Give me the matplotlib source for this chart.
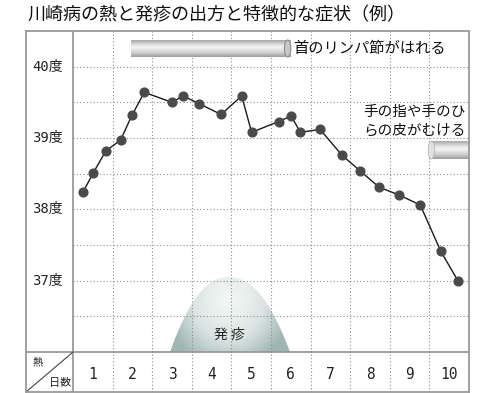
import numpy as np
import matplotlib
matplotlib.use("Agg")
import matplotlib.pyplot as plt
from matplotlib.patches import Polygon, Ellipse
from matplotlib.colors import LinearSegmentedColormap

plt.rcParams['font.family'] = ['Noto Sans CJK JP', 'DejaVu Sans']

# ----------------------------
# data
# ----------------------------
title = "川崎病の熱と発疹の出方と特徴的な症状（例）"
days = [1, 2, 3, 4, 5, 6, 7, 8, 9, 10]
temp_ticks = [37, 38, 39, 40]
temp_labels = ["37度", "38度", "39度", "40度"]

# position in days (day n spans n-1..n) and body temperature
fever_x = [0.26, 0.51, 0.83, 1.20, 1.49, 1.80, 2.50, 2.78, 3.19, 3.74, 4.26, 4.51,
           5.19, 5.51, 5.74, 6.24, 6.79, 7.25, 7.73, 8.24, 8.77, 9.29, 9.73]
fever_t = [38.25, 38.51, 38.82, 38.97, 39.32, 39.64, 39.50, 39.59, 39.48, 39.33, 39.59, 39.08,
           39.23, 39.31, 39.08, 39.12, 38.76, 38.54, 38.31, 38.20, 38.06, 37.41, 36.99]

# symptom periods (in days)
lymph_label = "首のリンパ節がはれる"
lymph_span = (1.47, 5.50)
peel_label = ["手の指や手のひ", "らの皮がむける"]
peel_span = (8.99, 10.0)
rash_label = "発 疹"
rash_span = (2.45, 5.48)
rash_peak = 3.93

# ----------------------------
# layout
# ----------------------------
W, H = 480, 393
fig = plt.figure(figsize=(W / 100, H / 100), dpi=100)
left_px, right_px, top_px, bot_px = 26, 469, 31, 392
ax = fig.add_axes([left_px / W, 1 - bot_px / H, (right_px - left_px) / W, (bot_px - top_px) / H])
xmin, xmax = -1.187, 10.0
ymin, ymax = 35.44, 40.5

frame = "#9a9a9a"
grid = "#8c8c8c"

for s in ax.spines.values():
    s.set_color(frame)
    s.set_linewidth(1.3)
ax.set_xticks([])
ax.set_yticks([])

# dividers of label column / bottom row
ax.plot([0, 0], [ymin, ymax], color=frame, lw=1.3)
ax.plot([xmin, xmax], [36, 36], color=frame, lw=1.3)
ax.plot([xmin, 0], [ymin, 36], color="#444444", lw=0.8)

# dotted grid
for d in days[:-1]:
    ax.plot([d, d], [ymin, ymax], color=grid, lw=0.8, ls=(0, (1, 2)))
for t in np.arange(36.5, 40.01, 0.5):
    ax.plot([0, xmax], [t, t], color=grid, lw=0.8, ls=(0, (1, 2)))

# rash dome with gradient
xs = np.linspace(rash_span[0], rash_span[1], 200)
hw = np.where(xs < rash_peak, rash_peak - rash_span[0], rash_span[1] - rash_peak)
ys = 36 + 1.05 * (1 - np.abs((xs - rash_peak) / hw) ** 2.2)
dome = Polygon(np.column_stack([xs, ys]), closed=True, facecolor="none", edgecolor="none")
ax.add_patch(dome)
gx, gy = np.meshgrid(np.linspace(rash_span[0], rash_span[1], 200), np.linspace(36, 37.1, 120))
r = np.sqrt(((gx - rash_peak) / 1.6) ** 2 + ((gy - 36.75) / 1.0) ** 2)
rash_cmap = LinearSegmentedColormap.from_list("rash", ["#f3f7f6", "#d9e3e1", "#9fb6b1"])
im = ax.imshow(np.clip(r, 0, 1) ** 1.3, extent=[rash_span[0], rash_span[1], 36, 37.1], origin="lower",
               cmap=rash_cmap, vmin=0, vmax=1, aspect="auto", zorder=1)
im.set_clip_path(dome)
ax.text(3.96, 36.24, rash_label, ha="center", va="center", fontsize=10, color="#222222", zorder=3)

# cylinder bars
bar_cmap = LinearSegmentedColormap.from_list(
    "bar", [(0, "#a8a8a8"), (0.3, "#e6e6e6"), (0.45, "#f3f3f3"), (0.75, "#cfcfcf"), (1, "#9c9c9c")])
grad = np.linspace(0, 1, 64).reshape(-1, 1)
b1 = (40.136, 40.374)
ax.imshow(grad, extent=[lymph_span[0], lymph_span[1], b1[0], b1[1]], origin="upper",
          cmap=bar_cmap, aspect="auto", zorder=2)
ax.add_patch(Ellipse((lymph_span[1] - 0.08, sum(b1) / 2), 0.16, b1[1] - b1[0],
                     facecolor="#c9c9c9", edgecolor="#8a8a8a", lw=0.8, zorder=3))
ax.text(5.56, 40.26, lymph_label, ha="left", va="center", fontsize=11, color="#111111")

b2 = (38.706, 38.958)
ax.imshow(grad, extent=[peel_span[0], peel_span[1], b2[0], b2[1]], origin="upper",
          cmap=bar_cmap, aspect="auto", zorder=2)
ax.add_patch(Ellipse((peel_span[0] + 0.06, sum(b2) / 2), 0.16, b2[1] - b2[0],
                     facecolor="#e2e2e2", edgecolor="#b5b5b5", lw=0.6, zorder=3))
ax.text(7.32, 39.36, peel_label[0], ha="left", va="center", fontsize=10.5, color="#111111")
ax.text(7.32, 39.10, peel_label[1], ha="left", va="center", fontsize=10.5, color="#111111")

# fever curve
ax.plot(fever_x, fever_t, color="#1a1a1a", lw=1.0, marker="o", ms=6.3,
        mfc="#4a4a4a", mec="#4a4a4a", zorder=4)

# labels
mono = ["DejaVu Sans Mono", "Noto Sans CJK JP"]
for t, lab in zip(temp_ticks, temp_labels):
    ax.text(-0.25, t, lab, ha="right", va="center", fontsize=10, family=mono, color="#222222")
for d in days:
    ax.text(d - 0.5, 35.69, str(d), ha="center", va="center", fontsize=10.5,
            family=mono, color="#222222")
ax.text(-0.88, 35.85, "熱", ha="center", va="center", fontsize=7.5, color="#222222")
ax.text(-0.33, 35.57, "日数", ha="center", va="center", fontsize=8, color="#222222")

ax.set_xlim(xmin, xmax)
ax.set_ylim(ymin, ymax)

fig.text(27 / W, 1 - 15 / H, title, ha="left", va="center", fontsize=13, color="#111111")

fig.savefig("out.png", dpi=100)
